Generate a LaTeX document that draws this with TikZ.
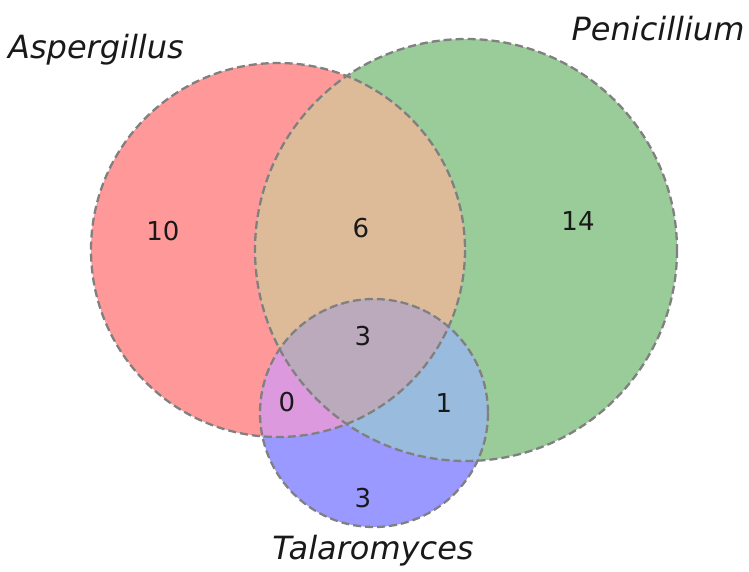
\documentclass[tikz,border=0pt]{standalone}
\usepackage{fontspec}
\setmainfont{DejaVu Sans}
\begin{document}
\begin{tikzpicture}[x=1pt,y=-1pt,
  outline/.style={draw=black!50, line width=2.3pt, dash pattern=on 8pt off 4pt},
  num/.style={font=\fontsize{26}{30}\selectfont, text=black!90},
  setlabel/.style={font=\fontsize{32}{36}\selectfont\itshape, text=black!90}]
\definecolor{cA}{RGB}{255,153,153}
\definecolor{cB}{RGB}{153,204,153}
\definecolor{cC}{RGB}{153,153,255}
\definecolor{cAB}{RGB}{221,187,153}
\definecolor{cAC}{RGB}{221,153,221}
\definecolor{cBC}{RGB}{153,187,221}
\definecolor{cABC}{RGB}{187,170,187}
\useasboundingbox (0,0) rectangle (749,572);
\coordinate (A) at (278,250);
\coordinate (B) at (466,250);
\coordinate (C) at (374,413);
\def\rA{187}\def\rB{211}\def\rC{114}
% fills
\fill[cA] (A) circle (\rA);
\fill[cB] (B) circle (\rB);
\fill[cC] (C) circle (\rC);
\begin{scope}\clip (A) circle (\rA); \fill[cAB] (B) circle (\rB); \end{scope}
\begin{scope}\clip (A) circle (\rA); \fill[cAC] (C) circle (\rC); \end{scope}
\begin{scope}\clip (B) circle (\rB); \fill[cBC] (C) circle (\rC); \end{scope}
\begin{scope}\clip (A) circle (\rA); \clip (B) circle (\rB); \fill[cABC] (C) circle (\rC); \end{scope}
% outlines
\draw[outline] (A) circle (\rA);
\draw[outline] (B) circle (\rB);
\draw[outline] (C) circle (\rC);
% numbers
\node[num] (nA) at (163,231) {10};
\node[num] (nAB) at (361,228) {6};
\node[num] (nB) at (578,221) {14};
\node[num] (nABC) at (363,336) {3};
\node[num] (nAC) at (287,402) {0};
\node[num] (nBC) at (444,403) {1};
\node[num] (nC) at (363,498) {3};
% labels
\node[setlabel] (lA) at (96,50) {Aspergillus};
\node[setlabel] (lB) at (658,29) {Penicillium};
\node[setlabel] (lC) at (373,551) {Talaromyces};
\end{tikzpicture}
\end{document}
